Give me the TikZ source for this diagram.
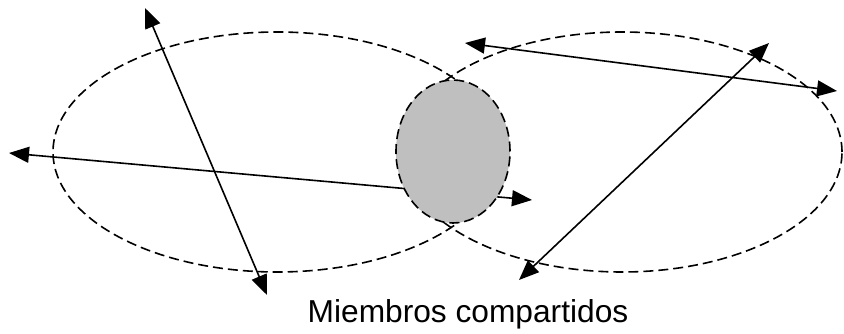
\documentclass[tikz,border=0pt]{standalone}
\usepackage{fontspec}
\setmainfont{Liberation Sans}
\usetikzlibrary{shapes.geometric,arrows.meta}
\tikzset{
  setring/.style={ellipse, draw, dash pattern=on 10pt off 5pt, line width=1.6pt, inner sep=0pt},
  link/.style={line width=1.6pt, {Triangle[length=20pt,width=16pt]}-{Triangle[length=20pt,width=16pt]}},
  shared/.style={ellipse, draw, fill=black!25, dash pattern=on 10pt off 5pt, line width=1.6pt, inner sep=0pt}
}
\begin{document}
\begin{tikzpicture}[x=1pt,y=-1pt]
\useasboundingbox (0,0) rectangle (844,334);
\node[setring, minimum width=448pt, minimum height=240pt] (left) at (277,152) {};
\node[setring, minimum width=440pt, minimum height=240pt] (right) at (622,152) {};
\coordinate (a1) at (145,8);
\coordinate (a2) at (267,295);
\coordinate (b1) at (9,153);
\coordinate (b2) at (532,200);
\coordinate (c1) at (465,43);
\coordinate (c2) at (837,91);
\coordinate (d1) at (769,43);
\coordinate (d2) at (519,280);
\draw[link] (a1) -- (a2);
\draw[link] (b1) -- (b2);
\draw[link] (c1) -- (c2);
\draw[link] (d1) -- (d2);
\node[shared, minimum width=114pt, minimum height=143pt] (common) at (453,151.5) {};
\node[anchor=base, font=\fontsize{31.7}{38}\selectfont] (label) at (468,322) {Miembros compartidos};
\end{tikzpicture}
\end{document}
